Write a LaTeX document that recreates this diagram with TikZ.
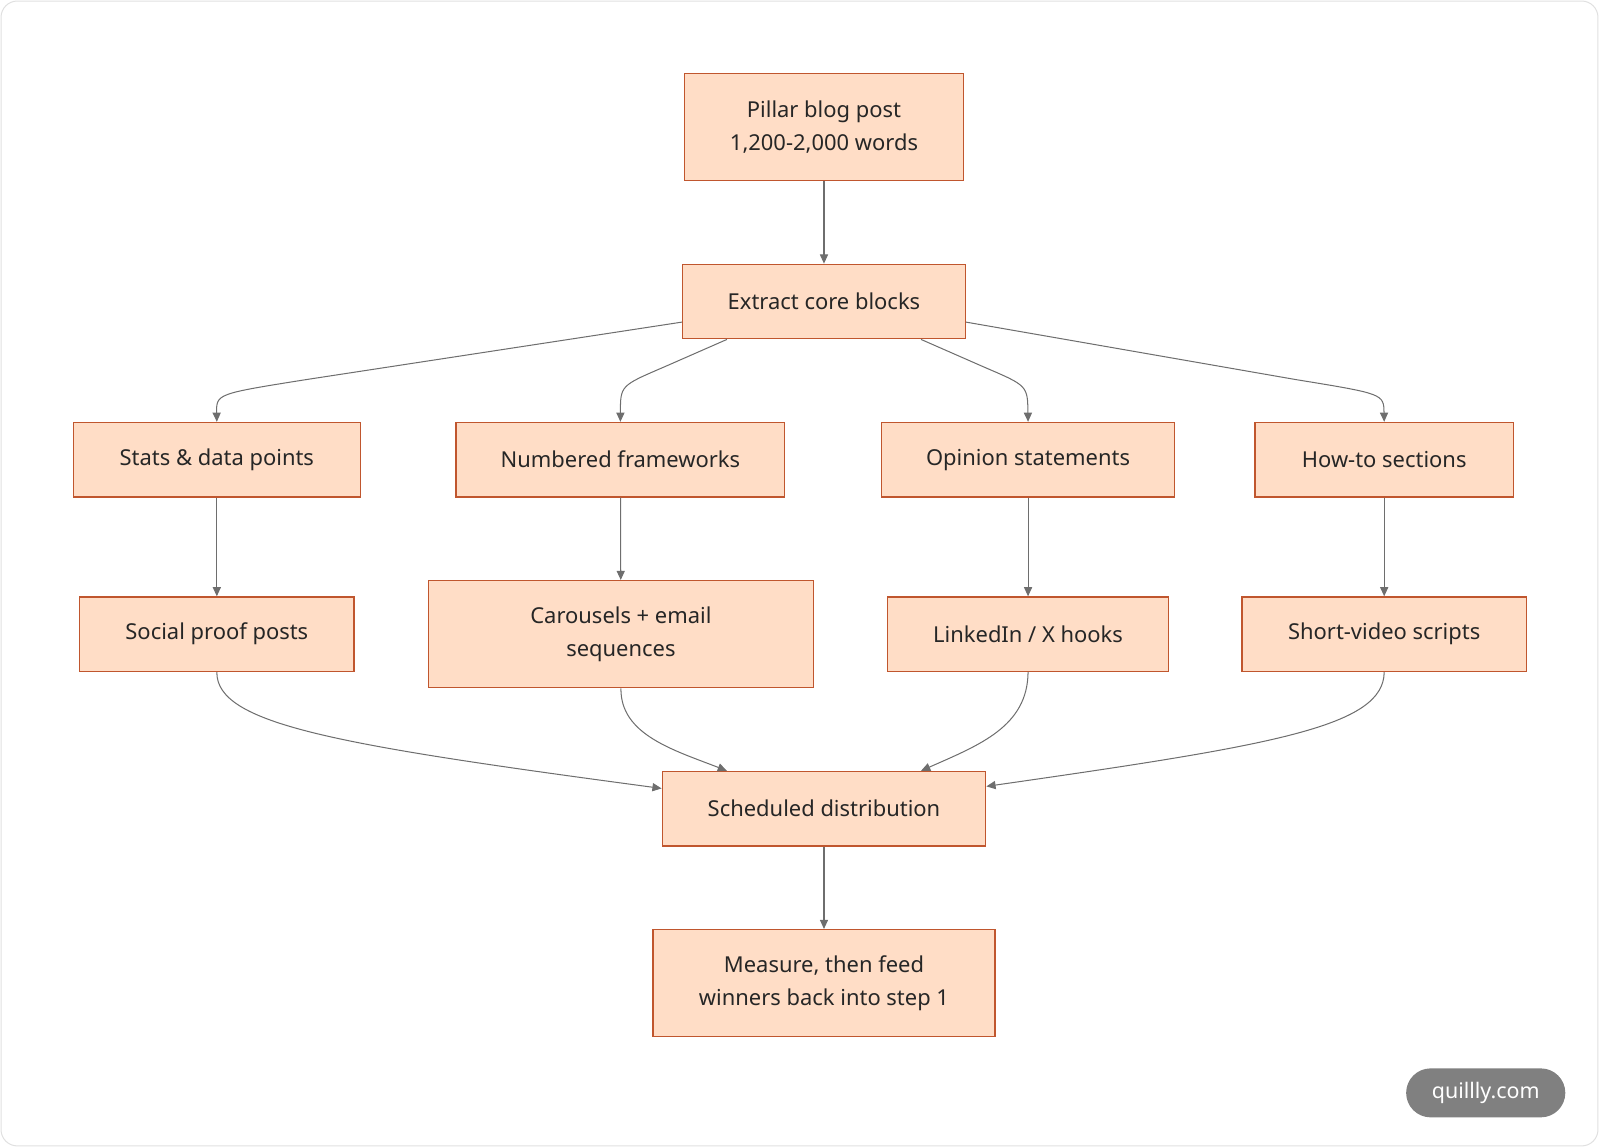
\documentclass[tikz,border=0pt]{standalone}
\usepackage{fontspec}
\setmainfont{Noto Sans}
\usetikzlibrary{arrows.meta}
\definecolor{boxfill}{HTML}{FFDDC6}
\definecolor{boxline}{HTML}{C0562E}
\definecolor{edge}{HTML}{6E6E6E}
\tikzset{
  box/.style={draw=boxline,fill=boxfill,line width=1.3pt,align=center,inner sep=0pt,font=\fontsize{21.5}{32}\selectfont,text=black!85},
  conn/.style={draw=edge,line width=1pt,-{Triangle[length=9pt,width=8pt]}}
}
\begin{document}
\begin{tikzpicture}[x=1pt,y=-1pt]
\useasboundingbox (0,0) rectangle (1568,1125);
\draw[black!12,line width=1pt,rounded corners=16pt] (1,1) rectangle (1566,1123);
\node[box,minimum width=273pt,minimum height=105pt] (pillar) at (807.5,124.5) {Pillar blog post\\1,200-2,000 words};
\node[box,minimum width=277pt,minimum height=73pt] (extract) at (807.5,295.5) {Extract core blocks};
\node[box,minimum width=281pt,minimum height=73pt] (stats) at (212.5,450.5) {Stats \& data points};
\node[box,minimum width=322pt,minimum height=73pt] (numbered) at (608,450.5) {Numbered frameworks};
\node[box,minimum width=287pt,minimum height=73pt] (opinion) at (1007.5,450.5) {Opinion statements};
\node[box,minimum width=253pt,minimum height=73pt] (howto) at (1356.5,450.5) {How-to sections};
\node[box,minimum width=269pt,minimum height=73pt] (social) at (212.5,621.5) {Social proof posts};
\node[box,minimum width=377pt,minimum height=105pt] (carousel) at (608.5,621.5) {Carousels + email\\sequences};
\node[box,minimum width=275pt,minimum height=73pt] (linkedin) at (1007.5,621.5) {LinkedIn / X hooks};
\node[box,minimum width=279pt,minimum height=73pt] (short) at (1356.5,621.5) {Short-video scripts};
\node[box,minimum width=317pt,minimum height=73pt] (sched) at (807.5,792.5) {Scheduled distribution};
\node[box,minimum width=335pt,minimum height=105pt] (measure) at (807.5,963.5) {Measure, then feed\\winners back into step 1};
\node[fill=black!50,text=white,rounded corners=24pt,minimum width=156pt,minimum height=48pt,inner sep=0pt,font=\fontsize{21}{24}\selectfont] (wm) at (1456,1071) {quillly.com};
\draw[conn] (pillar) -- (extract);
\draw[conn] ([yshift=17pt]extract.south west) -- (300,372) .. controls (212,386) .. (stats.north);
\draw[conn] ([xshift=44pt]extract.south west) -- (650,360) .. controls (608,378) .. (numbered.north);
\draw[conn] ([xshift=-44pt]extract.south east) -- (965,360) .. controls (1007,378) .. (opinion.north);
\draw[conn] ([yshift=17pt]extract.south east) -- (1270,372) .. controls (1356,386) .. (howto.north);
\draw[conn] (stats) -- (social);
\draw[conn] (numbered) -- (carousel);
\draw[conn] (opinion) -- (linkedin);
\draw[conn] (howto) -- (short);
\draw[conn] (social.south) .. controls (212,710) and (330,730) .. ([yshift=57pt]sched.south west);
\draw[conn] (carousel.south) .. controls (608,720) and (660,735) .. ([xshift=64pt]sched.north west);
\draw[conn] (linkedin.south) .. controls (1007,712) and (960,730) .. ([xshift=-64pt]sched.north east);
\draw[conn] (short.south) .. controls (1356,712) and (1250,730) .. ([yshift=59pt]sched.south east);
\draw[conn] (sched) -- (measure);
\end{tikzpicture}
\end{document}
